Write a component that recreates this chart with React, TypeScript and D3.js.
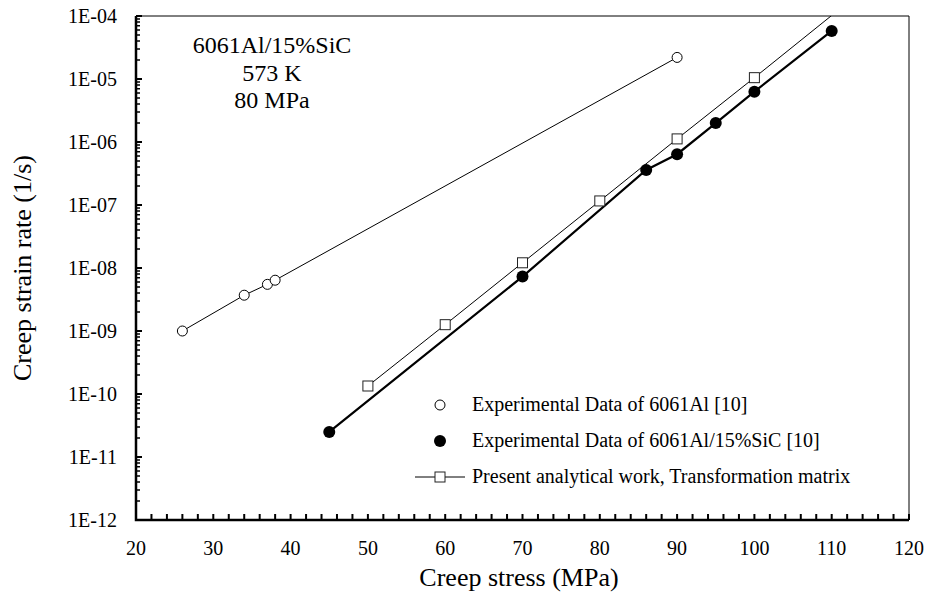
import React, { useEffect, useRef } from "react";
import * as d3 from "d3";

// 6061Al matrix, experimental
const stressAl = [26, 34, 37, 38, 90];
const rateAl = [1.0e-9, 3.7e-9, 5.5e-9, 6.4e-9, 2.2e-5];

// 6061Al/15%SiC composite, experimental
const stressComp = [45, 70, 86, 90, 95, 100, 110];
const rateComp = [2.5e-11, 7.3e-9, 3.6e-7, 6.4e-7, 2.0e-6, 6.3e-6, 5.8e-5];

// present analytical work (transformation matrix)
const stressModel = [50, 60, 70, 80, 90, 100, 110];
const rateModel = [1.34e-10, 1.26e-9, 1.21e-8, 1.16e-7, 1.12e-6, 1.05e-5, 1.02e-4];

const xTicks = [20, 30, 40, 50, 60, 70, 80, 90, 100, 110, 120];
const yDecades = [-12, -11, -10, -9, -8, -7, -6, -5, -4];

const legendLabels = [
  "Experimental Data of 6061Al [10]",
  "Experimental Data of 6061Al/15%SiC [10]",
  "Present analytical work, Transformation matrix",
];
const noteLines = ["6061Al/15%SiC", "573 K", "80 MPa"];

const App = () => {
  const svgRef = useRef<SVGSVGElement>(null);

  useEffect(() => {
    const width = 927,
      height = 593;
    const left = 136,
      right = 909,
      top = 16,
      bottom = 520;
    const font = "Liberation Serif";

    const svg = d3
      .select(svgRef.current)
      .attr("width", width)
      .attr("height", height)
      .html("");

    const x = d3.scaleLinear().domain([20, 120]).range([left, right]);
    const y = d3.scaleLog().domain([1e-12, 1e-4]).range([bottom, top]);

    svg
      .append("defs")
      .append("clipPath")
      .attr("id", "plotclip")
      .append("rect")
      .attr("x", left)
      .attr("y", top)
      .attr("width", right - left)
      .attr("height", bottom - top);

    // series
    const plot = svg.append("g").attr("clip-path", "url(#plotclip)");
    const line = d3
      .line<[number, number]>()
      .x((d) => x(d[0]))
      .y((d) => y(d[1]));

    const al = stressAl.map((s, i) => [s, rateAl[i]] as [number, number]);
    const comp = stressComp.map((s, i) => [s, rateComp[i]] as [number, number]);
    const model = stressModel.map((s, i) => [s, rateModel[i]] as [number, number]);

    plot.append("path").attr("d", line(al)).attr("fill", "none").attr("stroke", "#000").attr("stroke-width", 1);
    plot.append("path").attr("d", line(model)).attr("fill", "none").attr("stroke", "#000").attr("stroke-width", 1);
    plot.append("path").attr("d", line(comp)).attr("fill", "none").attr("stroke", "#000").attr("stroke-width", 2.2);

    plot
      .append("g")
      .selectAll("rect")
      .data(model.filter((d) => d[1] <= 1e-4))
      .enter()
      .append("rect")
      .attr("x", (d) => x(d[0]) - 5)
      .attr("y", (d) => y(d[1]) - 5)
      .attr("width", 10)
      .attr("height", 10)
      .attr("fill", "#fff")
      .attr("stroke", "#222")
      .attr("stroke-width", 1);

    plot
      .append("g")
      .selectAll("circle")
      .data(al)
      .enter()
      .append("circle")
      .attr("cx", (d) => x(d[0]))
      .attr("cy", (d) => y(d[1]))
      .attr("r", 5)
      .attr("fill", "#fff")
      .attr("stroke", "#000")
      .attr("stroke-width", 1);

    plot
      .append("g")
      .selectAll("circle")
      .data(comp)
      .enter()
      .append("circle")
      .attr("cx", (d) => x(d[0]))
      .attr("cy", (d) => y(d[1]))
      .attr("r", 6)
      .attr("fill", "#000");

    // frame: thin top/right, thick left/bottom
    svg
      .append("path")
      .attr("d", `M${left},${top}H${right}V${bottom}`)
      .attr("fill", "none")
      .attr("stroke", "#000")
      .attr("stroke-width", 1);
    svg
      .append("path")
      .attr("d", `M${left},${top}V${bottom}H${right}`)
      .attr("fill", "none")
      .attr("stroke", "#000")
      .attr("stroke-width", 2.5);

    // inward ticks: every 2 MPa on x, decades + log minors on y
    const tk = svg.append("g").attr("stroke", "#000").attr("fill", "none");
    tk.append("path")
      .attr("stroke-width", 2)
      .attr(
        "d",
        d3
          .range(20, 121, 2)
          .map((v) => `M${x(v)},${bottom}V${bottom - 6}`)
          .join("")
      );
    tk.append("path")
      .attr("stroke-width", 2)
      .attr("d", yDecades.map((e) => `M${left},${y(Math.pow(10, e))}H${left + 6}`).join(""));
    const yMinor: number[] = [];
    yDecades.slice(0, -1).forEach((e) => {
      for (let k = 2; k <= 9; k++) yMinor.push(k * Math.pow(10, e));
    });
    tk.append("path")
      .attr("stroke-width", 1.5)
      .attr("d", yMinor.map((v) => `M${left},${y(v)}H${left + 4}`).join(""));

    // tick labels
    svg
      .append("g")
      .selectAll("text")
      .data(xTicks)
      .enter()
      .append("text")
      .attr("x", (d) => x(d))
      .attr("y", 555)
      .attr("text-anchor", "middle")
      .attr("font-family", font)
      .attr("font-size", 20)
      .text((d) => d);

    svg
      .append("g")
      .selectAll("text")
      .data(yDecades)
      .enter()
      .append("text")
      .attr("x", 117)
      .attr("y", (d) => y(Math.pow(10, d)) + 7)
      .attr("text-anchor", "end")
      .attr("font-family", font)
      .attr("font-size", 20)
      .text((d) => `1E-${String(-d).padStart(2, "0")}`);

    // axis titles
    svg
      .append("text")
      .attr("x", 519)
      .attr("y", 586)
      .attr("text-anchor", "middle")
      .attr("font-family", font)
      .attr("font-size", 26)
      .text("Creep stress (MPa)");
    svg
      .append("text")
      .attr("transform", `translate(31, ${(top + bottom) / 2}) rotate(-90)`)
      .attr("text-anchor", "middle")
      .attr("font-family", font)
      .attr("font-size", 26)
      .text("Creep strain rate (1/s)");

    // annotation
    svg
      .append("g")
      .selectAll("text")
      .data(noteLines)
      .enter()
      .append("text")
      .attr("x", 272)
      .attr("y", (_, i) => 53 + i * 27.5)
      .attr("text-anchor", "middle")
      .attr("font-family", font)
      .attr("font-size", 24)
      .text((d) => d);

    // legend
    const lg = svg.append("g");
    const lx = 440,
      ly = [405, 441, 477];
    lg.append("circle").attr("cx", lx).attr("cy", ly[0]).attr("r", 5).attr("fill", "#fff").attr("stroke", "#000");
    lg.append("circle").attr("cx", lx).attr("cy", ly[1]).attr("r", 6).attr("fill", "#000");
    lg.append("path").attr("d", `M${lx - 25},${ly[2]}H${lx + 25}`).attr("stroke", "#000").attr("stroke-width", 1);
    lg.append("rect")
      .attr("x", lx - 5)
      .attr("y", ly[2] - 5)
      .attr("width", 10)
      .attr("height", 10)
      .attr("fill", "#fff")
      .attr("stroke", "#222");
    lg.selectAll("text")
      .data(legendLabels)
      .enter()
      .append("text")
      .attr("x", 472)
      .attr("y", (_, i) => ly[i] + 6)
      .attr("font-family", font)
      .attr("font-size", 20)
      .text((d) => d);
  }, []);

  return <svg ref={svgRef} style={{ position: "absolute", left: 0, top: 0, background: "#fff" }}></svg>;
};

export default App;
